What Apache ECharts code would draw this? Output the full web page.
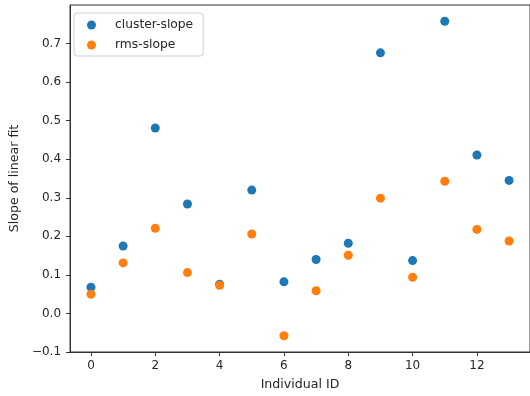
<!DOCTYPE html>
<html>
<head>
<meta charset="utf-8">
<script src="https://cdn.jsdelivr.net/npm/echarts@6/dist/echarts.min.js"></script>
<style>html,body{margin:0;padding:0;background:#fff}#c{width:530px;height:396px}</style>
</head>
<body>
<div id="c"></div>
<script>
const ids = [0,1,2,3,4,5,6,7,8,9,10,11,12,13];
const clusterSlope = [0.068,0.175,0.481,0.284,0.076,0.320,0.082,0.140,0.182,0.676,0.137,0.758,0.411,0.345];
const rmsSlope = [0.050,0.131,0.221,0.106,0.073,0.206,-0.058,0.059,0.151,0.299,0.094,0.343,0.218,0.188];
const xTicks = [0,2,4,6,8,10,12];
const yTicks = [-0.1,0.0,0.1,0.2,0.3,0.4,0.5,0.6,0.7];
const seriesNames = ['cluster-slope','rms-slope'];

const font = 'DejaVu Sans';
const txt = '#262626';
const chart = echarts.init(document.getElementById('c'), null, {renderer:'canvas'});
chart.setOption({
  animation:false,
  backgroundColor:'#fff',
  grid:{left:67,right:-3,top:5,bottom:44,show:true,borderColor:'#333',borderWidth:1,backgroundColor:'transparent'},
  legend:{
    orient:'vertical',left:74,top:13,
    data:seriesNames,
    icon:'circle',itemWidth:9,itemHeight:9,itemGap:8,
    padding:[6,10,5,13],
    borderColor:'#d0d0d0',borderWidth:1,borderRadius:3,
    backgroundColor:'rgba(255,255,255,0.85)',
    textStyle:{fontFamily:font,fontSize:12.3,color:txt,padding:[0,0,0,14]}
  },
  xAxis:{
    type:'value',min:-0.65,max:13.65,
    name:'Individual ID',nameLocation:'middle',nameGap:26,
    nameTextStyle:{fontFamily:font,fontSize:12.6,color:txt},
    axisLine:{show:true,onZero:false,lineStyle:{color:'#333',width:1}},
    axisTick:{show:true,length:4,customValues:xTicks,lineStyle:{color:'#333'}},
    axisLabel:{customValues:xTicks,margin:8,fontFamily:font,fontSize:12,color:txt,formatter:v=>String(v)},
    splitLine:{show:false}
  },
  yAxis:{
    type:'value',min:-0.1,max:0.8,
    name:'Slope of linear fit',nameLocation:'middle',nameGap:49,
    nameTextStyle:{fontFamily:font,fontSize:12.6,color:txt},
    axisLine:{show:true,onZero:false,lineStyle:{color:'#333',width:1}},
    axisTick:{show:true,length:4,customValues:yTicks,lineStyle:{color:'#333'}},
    axisLabel:{customValues:yTicks,margin:9,fontFamily:font,fontSize:12,color:txt,
      formatter:v=>(v<0?'\u2212':'')+Math.abs(v).toFixed(1)},
    splitLine:{show:false}
  },
  series:[
    {name:seriesNames[0],type:'scatter',symbolSize:9,itemStyle:{color:'#1f77b4',opacity:1},
     data:ids.map((x,i)=>[x,clusterSlope[i]])},
    {name:seriesNames[1],type:'scatter',symbolSize:9,itemStyle:{color:'#ff7f0e',opacity:1},
     data:ids.map((x,i)=>[x,rmsSlope[i]])}
  ]
});
</script>
</body>
</html>
